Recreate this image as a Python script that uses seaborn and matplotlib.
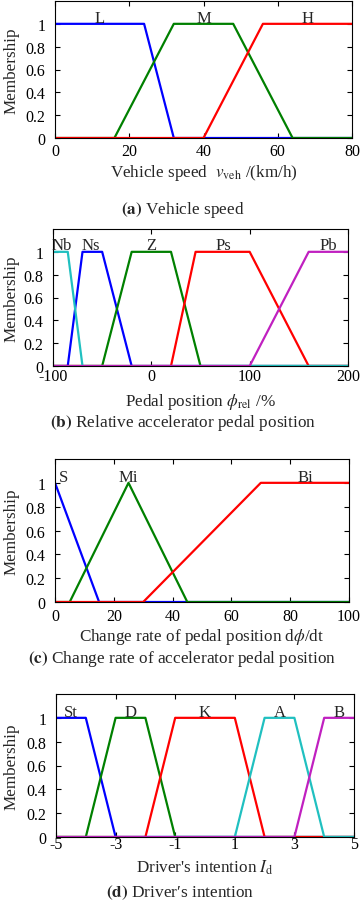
import pandas as pd
import matplotlib
matplotlib.use("Agg")
import matplotlib.pyplot as plt
import seaborn as sns

# (a) vehicle speed
speed_names = ["L", "M", "H"]
speed_x = [[0, 24, 32, 80], [0, 16, 32, 48, 64, 80], [0, 40, 56, 80]]
speed_y = [[1, 1, 0, 0], [0, 0, 1, 1, 0, 0], [0, 0, 1, 1]]
speed_lbl_x = [12, 40, 68]

# (b) relative pedal position (draw order = MATLAB colour order)
pedal_names = ["Ns", "Z", "Ps", "Nb", "Pb"]
pedal_x = [[-100, -85, -70, -50, -20, 200],
           [-100, -50, -20, 20, 50, 200],
           [-100, 20, 45, 100, 160, 200],
           [-100, -85, -70, 200],
           [-100, 100, 160, 200]]
pedal_y = [[0, 0, 1, 1, 0, 0],
           [0, 0, 1, 1, 0, 0],
           [0, 0, 1, 1, 0, 0],
           [1, 1, 0, 0],
           [0, 0, 1, 1]]
pedal_lbl_x = [-62, 0, 73, -91, 180]

# (c) change rate of pedal position
rate_names = ["S", "Mi", "Bi"]
rate_x = [[0, 15, 100], [0, 5, 25, 45, 100], [0, 30, 70, 100]]
rate_y = [[1, 0, 0], [0, 0, 1, 0, 0], [0, 0, 1, 1]]
rate_lbl_x = [3, 25, 85]

# (d) driver's intention
int_names = ["St", "D", "K", "A", "B"]
int_x = [[-5, -4, -3, 5],
         [-5, -4, -3, -2, -1, 5],
         [-5, -2, -1, 1, 2, 5],
         [-5, 1, 2, 3, 4, 5],
         [-5, 3, 4, 5]]
int_y = [[1, 1, 0, 0],
         [0, 0, 1, 1, 0, 0],
         [0, 0, 1, 1, 0, 0],
         [0, 0, 1, 1, 0, 0],
         [0, 0, 1, 1]]
int_lbl_x = [-4.5, -2.5, 0, 2.5, 4.5]

colors = ["#0000FF", "#008000", "#FF0000", "#20C0C0", "#C020C0"]
yticks = [0, 0.2, 0.4, 0.6, 0.8, 1]
ytick_labels = ["0", "0.2", "0.4", "0.6", "0.8", "1"]

sns.set_style("ticks")
plt.rcParams["font.family"] = ["Liberation Serif", "DejaVu Serif"]
plt.rcParams["mathtext.fontset"] = "stix"

W, H = 364, 903
fig = plt.figure(figsize=(W / 100, H / 100), dpi=100)


def px_axes(left, top, right, bottom):
    return fig.add_axes([left / W, 1 - bottom / H, (right - left) / W, (bottom - top) / H])


def panel(ax, names, xs, ys, lbl_x, lbl_y, xlim, xticks, xpad, xlabel, xlabel_y,
          caption, cap_xy):
    rows = []
    for n, x, y in zip(names, xs, ys):
        for xi, yi in zip(x, y):
            rows.append({"set": n, "x": xi, "y": yi})
    df = pd.DataFrame(rows)
    sns.lineplot(data=df, x="x", y="y", hue="set", hue_order=names,
                 palette=colors[:len(names)], sort=False, estimator=None,
                 lw=1.6, legend=False, ax=ax)
    for n, lx in zip(names, lbl_x):
        ax.text(lx, lbl_y, n, ha="center", va="center", fontsize=12)
    ax.set_xlim(xlim)
    ax.set_ylim(0, 1.2)
    ax.set_xticks(xticks)
    ax.set_xticklabels([str(t) for t in xticks])
    ax.set_yticks(yticks)
    ax.set_yticklabels(ytick_labels)
    ax.tick_params(direction="in", top=True, right=True, length=3.5, width=0.8,
                   labelsize=11.5, colors="black")
    ax.tick_params(axis="y", pad=7)
    ax.tick_params(axis="x", pad=xpad)
    for s in ax.spines.values():
        s.set_visible(True)
        s.set_linewidth(0.8)
        s.set_color("black")
    ax.set_xlabel(xlabel, fontsize=12.3, va="center")
    ax.set_ylabel("Membership", fontsize=12.3)
    bb = ax.get_position()
    ax.xaxis.set_label_coords(0.5, (bb.y0 - (1 - xlabel_y / H)) / -bb.height)
    ax.yaxis.set_label_coords((20 / W - bb.x0) / bb.width, 0.5)
    fig.text(cap_xy[0] / W, 1 - cap_xy[1] / H, caption, ha="center", va="center",
             fontsize=12.4)


ax1 = px_axes(55, 2, 352, 139)
panel(ax1, speed_names, speed_x, speed_y, speed_lbl_x, 1.05, (0, 80),
      [0, 20, 40, 60, 80], 3.3, r"Vehicle speed  $v_{\rm veh}$ /(km/h)", 173,
      r"$\mathbf{(a)}$ Vehicle speed", (183, 210))

ax2 = px_axes(53, 230, 348, 367)
panel(ax2, pedal_names, pedal_x, pedal_y, pedal_lbl_x, 1.06, (-100, 200),
      [-100, 0, 100, 200], 1.8, r"Pedal position $\phi_{\rm rel}$ /%", 402,
      r"$\mathbf{(b)}$ Relative accelerator pedal position", (183, 423))

ax3 = px_axes(55, 460, 349, 603)
panel(ax3, rate_names, rate_x, rate_y, rate_lbl_x, 1.05, (0, 100),
      [0, 20, 40, 60, 80, 100], 4.0, r"Change rate of pedal position d$\phi$/dt", 637,
      r"$\mathbf{(c)}$ Change rate of accelerator pedal position", (182, 659))

ax4 = px_axes(56, 695, 354, 838)
panel(ax4, int_names, int_x, int_y, int_lbl_x, 1.05, (-5, 5),
      [-5, -3, -1, 1, 3, 5], -1.0, r"Driver's intention $I_{\rm d}$", 868,
      r"$\mathbf{(d)}$ Driver′s intention", (180, 893))

fig.savefig("out.png", dpi=100)
